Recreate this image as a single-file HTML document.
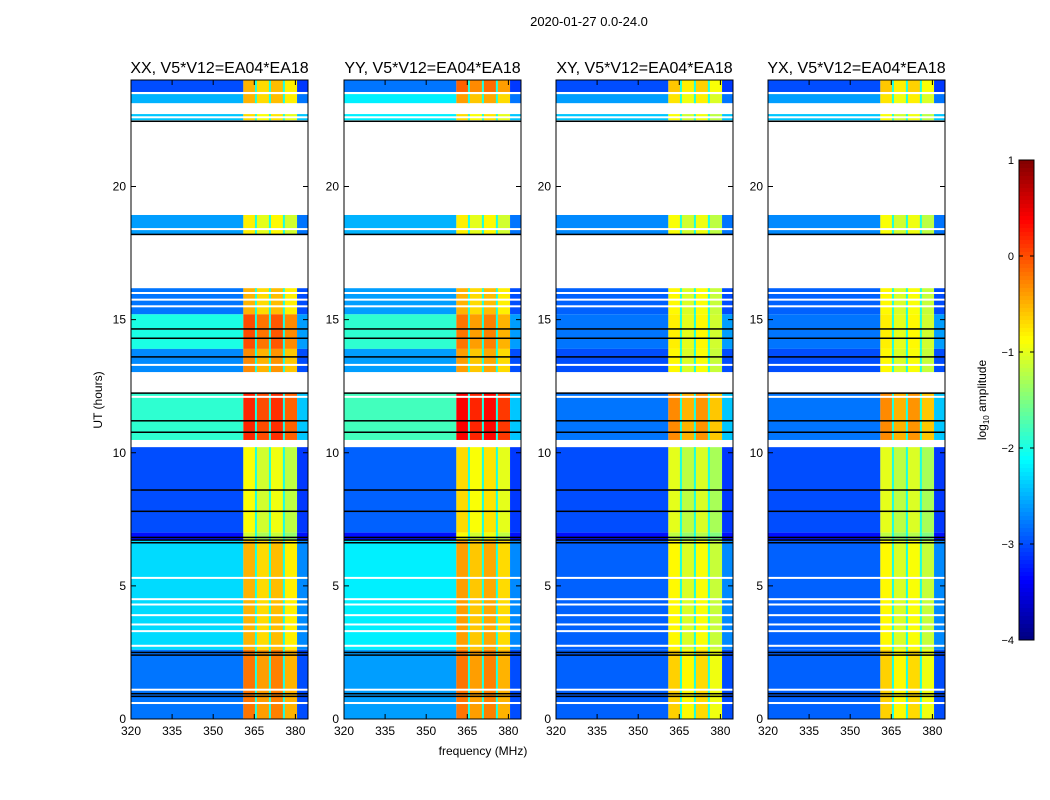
<!DOCTYPE html>
<html><head><meta charset="utf-8"><style>
body{margin:0;background:#fff;}
svg{display:block;font-family:"Liberation Sans",sans-serif;}
</style></head><body>
<svg id="fig" width="1050" height="800" viewBox="0 0 1050 800">
<text x="589" y="26" font-size="13" text-anchor="middle">2020-01-27 0.0-24.0</text>
<text x="483" y="755" font-size="12" text-anchor="middle">frequency (MHz)</text>
<text x="102" y="400" font-size="12" text-anchor="middle" transform="rotate(-90 102 400)">UT (hours)</text>
<g id="panels"></g>
<g id="cbar"></g>
</svg>
<script>
// ---- data ----
const panelNames = ['XX, V5*V12=EA04*EA18','YY, V5*V12=EA04*EA18','XY, V5*V12=EA04*EA18','YX, V5*V12=EA04*EA18'];
const segStart = [23.55, 23.13, 22.49, 18.21, 15.2, 13.9, 13.03, 10.48, 7.0, 6.7, 2.6, 0.0];
const segEnd   = [24.0, 23.47, 22.72, 18.93, 16.18, 15.2, 13.9, 12.24, 10.21, 7.0, 6.7, 2.6];
// background (320-361 MHz) log10 amplitude per segment, per panel
const bgXX = [-3.0, -2.5, -2.4, -2.6, -2.8, -2.0, -2.7, -1.9, -3.0, -3.3, -2.3, -2.8];
const bgYY = [-2.8, -2.2, -2.2, -2.5, -2.6, -1.9, -2.6, -1.8, -2.9, -3.3, -2.2, -2.6];
const bgXY = [-3.0, -2.6, -2.4, -2.7, -2.9, -2.8, -3.0, -2.8, -3.0, -3.3, -2.9, -2.9];
const bgYX = [-3.0, -2.6, -2.4, -2.7, -2.9, -2.8, -3.0, -2.8, -3.0, -3.3, -2.9, -2.9];
// RFI band (361-380.6 MHz) per segment, per panel
const bandXX = [-0.6, -0.6, -0.8, -0.9, -0.6, -0.1, -0.4, 0.1, -1.0, -1.2, -0.6, -0.3];
const bandYY = [-0.2, -0.5, -0.8, -0.9, -0.6, -0.3, -0.5, 0.3, -0.8, -1.0, -0.5, -0.3];
const bandXY = [-0.7, -0.85, -1.0, -1.0, -0.95, -0.9, -0.95, -0.4, -1.1, -1.3, -0.95, -0.75];
const bandYX = [-0.7, -0.85, -1.0, -1.0, -0.95, -0.9, -0.95, -0.4, -1.1, -1.3, -0.95, -0.75];
// upper strip (380.6-384.6 MHz)
const edgeVals = [-3.1, -2.8, -2.4, -2.8, -3.0, -2.6, -3.0, -2.4, -3.1, -3.3, -2.7, -3.0];
const bandCols = [361, 365.6, 370.7, 375.8, 380.6];
const colOffset = [0.1, -0.1, 0.05, -0.2];
const whiteLines = [16.0, 15.75, 15.5, 13.3, 12.1, 5.3, 4.5, 4.3, 3.9, 3.55, 3.3, 2.75, 1.1, 0.6, 22.6, 18.4];
const blackLines = [22.45, 18.2, 14.65, 14.3, 13.6, 12.24, 11.2, 10.77, 8.6, 7.8, 6.82, 6.72, 6.62, 2.5, 2.4, 0.95, 0.85];
const yTicks = [0, 5, 10, 15, 20];
const xTicks = [320, 335, 350, 365, 380];
const cbTicks = [1, 0, -1, -2, -3, -4];
const bgAll = [bgXX, bgYY, bgXY, bgYX];
const bandAll = [bandXX, bandYY, bandXY, bandYX];

// ---- layout ----
const panelX = [131, 344, 556, 768], pw = 177, pTop = 80, pBot = 719;
const fMin = 320, fMax = 384.6, tMax = 24;
const NS = 'http://www.w3.org/2000/svg';
function yS(h){ return pBot - h/tMax*(pBot-pTop); }
function xS(f, x0){ return x0 + (f-fMin)/(fMax-fMin)*pw; }
function jet(v){ // v in [-4,1]
  let t = Math.max(0, Math.min(1, (v+4)/5));
  const r = Math.max(0, Math.min(1, 1.5 - Math.abs(4*t-3)));
  const g = Math.max(0, Math.min(1, 1.5 - Math.abs(4*t-2)));
  const b = Math.max(0, Math.min(1, 1.5 - Math.abs(4*t-1)));
  return `rgb(${Math.round(r*255)},${Math.round(g*255)},${Math.round(b*255)})`;
}
function mk(tag, attrs, parent){ const e=document.createElementNS(NS,tag); for(const k in attrs) e.setAttribute(k, attrs[k]); parent.appendChild(e); return e; }
const G = document.getElementById('panels');
panelNames.forEach((nm, p) => {
  const x0 = panelX[p];
  const g = mk('g', {}, G);
  
  
  segStart.forEach((s, i) => {
    const y1 = yS(segEnd[i]), y2 = yS(s);
    const r1 = mk('rect', {x:x0, y:y1, width:xS(361,x0)-x0, height:y2-y1, fill:jet(bgAll[p][i])}, g);
    
    
    for (let c=0;c<4;c++){
      const xa = xS(bandCols[c],x0), xb = xS(bandCols[c+1],x0);
      const r2 = mk('rect', {x:xa, y:y1, width:xb-xa, height:y2-y1, fill:jet(bandAll[p][i]+colOffset[c])}, g);
      
      
      if (c>0){ mk('rect', {x:xa-1, y:y1, width:2, height:y2-y1, fill:jet(-2.0)}, g); }
    }
    const xe = xS(380.6,x0);
    const r3 = mk('rect', {x:xe, y:y1, width:x0+pw-xe, height:y2-y1, fill:jet(edgeVals[i])}, g);
    
    
  });
  whiteLines.forEach(h => { const l=mk('rect',{x:x0,y:yS(h)-1,width:pw,height:2,fill:'#fff'},g);   });
  blackLines.forEach(h => { const l=mk('rect',{x:x0,y:yS(h)-0.75,width:pw,height:1.5,fill:'#000'},g);   });
  const fr = mk('rect', {x:x0, y:pTop, width:pw, height:pBot-pTop, fill:'none', stroke:'#000', 'stroke-width':1}, g);
  
  
  yTicks.forEach(t => {
    const y = yS(t);
    mk('line',{x1:x0,x2:x0+5,y1:y,y2:y,stroke:'#000'},g);
    mk('line',{x1:x0+pw,x2:x0+pw-5,y1:y,y2:y,stroke:'#000'},g);
    const tx = mk('text',{x:x0-5,y:y+4,'font-size':12,'text-anchor':'end'},g);
    tx.textContent = t;
    
    
  });
  xTicks.forEach(t => {
    const x = xS(t,x0);
    mk('line',{x1:x,x2:x,y1:pBot,y2:pBot-5,stroke:'#000'},g);
    mk('line',{x1:x,x2:x,y1:pTop,y2:pTop+5,stroke:'#000'},g);
    const tx = mk('text',{x:x,y:pBot+16,'font-size':12,'text-anchor':'middle'},g);
    tx.textContent = t;
    
    
  });
  const tt = mk('text',{x:x0+pw/2,y:73,'font-size':16,'text-anchor':'middle'},g);
  tt.textContent = nm;
  
  
});
// colorbar
const C = document.getElementById('cbar');


const cx=1019, cw=15, ct=160, cb=640;
for (let i=0;i<120;i++){
  const v = 1 - i*5/120;
  mk('rect',{x:cx,y:ct+i*(cb-ct)/120,width:cw,height:(cb-ct)/120+0.5,fill:jet(v-5/240)},C);
}
mk('rect',{x:cx,y:ct,width:cw,height:cb-ct,fill:'none',stroke:'#000'},C);
cbTicks.forEach(t => {
  const y = ct + (1-t)/5*(cb-ct);
  mk('line',{x1:cx+cw,x2:cx+cw-4,y1:y,y2:y,stroke:'#000'},C);
  mk('line',{x1:cx,x2:cx+4,y1:y,y2:y,stroke:'#000'},C);
  const tx = mk('text',{x:cx-5,y:y+4,'font-size':11,'text-anchor':'end'},C);
  tx.textContent = t < 0 ? '\u2212' + (-t) : t;
  
  
});
const lb = mk('text',{x:986,y:400,'font-size':12,'text-anchor':'middle',transform:'rotate(-90 986 400)'},C);
lb.innerHTML = 'log<tspan font-size="8" dy="3">10</tspan><tspan dy="-3"> amplitude</tspan>';


</script>
</body></html>
